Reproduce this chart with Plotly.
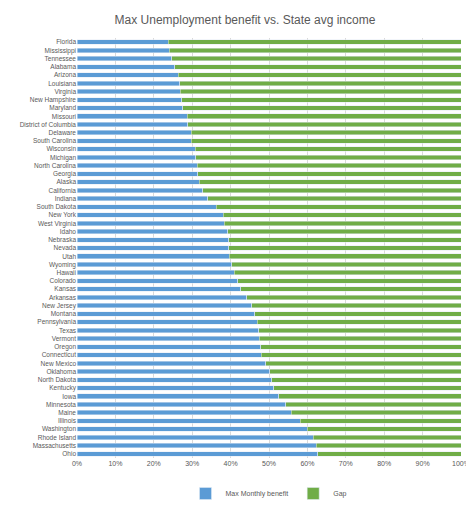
import plotly.graph_objects as go

states = ['Florida', 'Mississippi', 'Tennessee', 'Alabama', 'Arizona', 'Louisiana', 'Virginia',
          'New Hampshire', 'Maryland', 'Missouri', 'District of Columbia', 'Delaware',
          'South Carolina', 'Wisconsin', 'Michigan', 'North Carolina', 'Georgia', 'Alaska',
          'California', 'Indiana', 'South Dakota', 'New York', 'West Virginia', 'Idaho',
          'Nebraska', 'Nevada', 'Utah', 'Wyoming', 'Hawaii', 'Colorado', 'Kansas', 'Arkansas',
          'New Jersey', 'Montana', 'Pennsylvania', 'Texas', 'Vermont', 'Oregon', 'Connecticut',
          'New Mexico', 'Oklahoma', 'North Dakota', 'Kentucky', 'Iowa', 'Minnesota', 'Maine',
          'Illinois', 'Washington', 'Rhode Island', 'Massachusetts', 'Ohio']
benefit_pct = [23.8, 24.0, 24.7, 25.5, 26.4, 26.8, 26.9, 27.3, 27.6, 28.7, 28.9, 29.7, 29.8,
               30.8, 30.9, 31.3, 31.5, 31.8, 32.7, 34.0, 36.2, 38.1, 38.4, 39.2, 39.5, 39.5,
               39.7, 40.3, 41.0, 41.8, 42.7, 44.2, 45.5, 46.3, 46.9, 47.3, 47.5, 47.8, 48.0,
               49.2, 50.2, 50.7, 51.2, 52.5, 54.3, 55.8, 58.1, 60.0, 61.5, 62.3, 62.7]
gap_pct = [100 - b for b in benefit_pct]

fig = go.Figure()
fig.add_trace(go.Bar(y=states, x=benefit_pct, orientation='h', name='Max Monthly benefit',
                     marker_color='#5B9BD5'))
fig.add_trace(go.Bar(y=states, x=gap_pct, orientation='h', name='Gap',
                     marker_color='#70AD47'))

fig.update_layout(
    barmode='stack', bargap=0.45,
    title=dict(text='Max Unemployment benefit vs. State avg income', x=0.5, y=0.985,
               font=dict(size=12, color='#595959')),
    font=dict(family='Liberation Sans, Arial', color='#595959'),
    xaxis=dict(range=[0, 100], dtick=10, ticksuffix='%', showgrid=True, gridcolor='#d9d9d9',
               tickfont=dict(size=7), zeroline=False),
    yaxis=dict(autorange='reversed', tickfont=dict(size=6.5), showgrid=False,
               tickmode='linear', dtick=1, automargin=False, ticklen=0),
    legend=dict(orientation='h', x=0.5, xanchor='center', y=-0.05, yanchor='top',
                font=dict(size=7), traceorder='normal'),
    plot_bgcolor='white', paper_bgcolor='white',
    width=474, height=512,
    margin=dict(l=69, r=16, t=30, b=38),
)

fig.write_html('out.html')
